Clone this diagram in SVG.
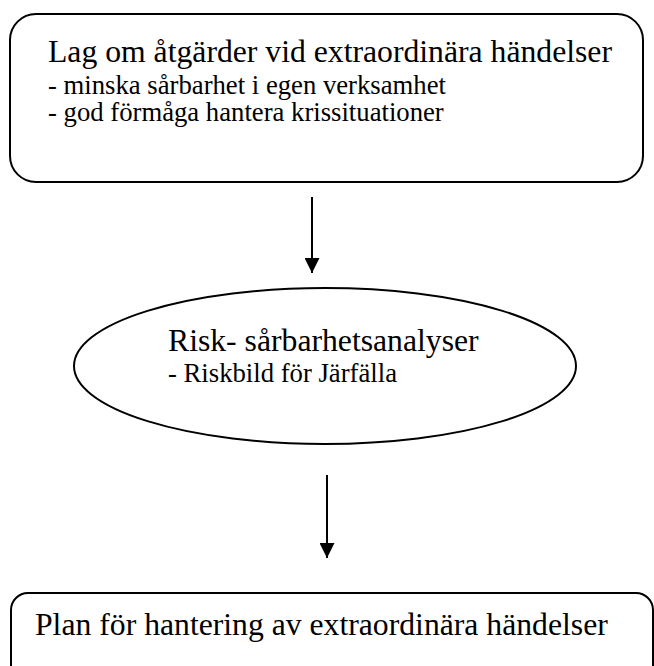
<svg xmlns="http://www.w3.org/2000/svg" width="654" height="666" viewBox="0 0 654 666">
<defs>
<style>
.shape{fill:#ffffff;stroke:#000000;stroke-width:2}
.t{font-family:"Liberation Serif","Times New Roman",serif;fill:#000000}
.big{font-size:31.7px}
.small{font-size:26.7px}
.conn{stroke:#000000;stroke-width:2;fill:none}
</style>
<marker id="ah" viewBox="0 0 10 10" refX="10" refY="5" markerWidth="7.5" markerHeight="7.5" markerUnits="strokeWidth" orient="auto">
<path d="M0,0 L10,5 L0,10 Z" fill="#000000"/>
</marker>
</defs>
<rect width="654" height="666" fill="#ffffff"/>
<g id="node-lag">
<rect class="shape" x="10" y="14" width="633" height="168" rx="26" ry="26"/>
<text class="t big" x="48" y="62">Lag om åtgärder vid extraordinära händelser</text>
<text class="t small" x="48" y="94">- minska sårbarhet i egen verksamhet</text>
<text class="t small" x="48" y="121">- god förmåga hantera krissituationer</text>
</g>
<g id="node-risk">
<ellipse class="shape" cx="325" cy="366" rx="251" ry="78"/>
<text class="t big" x="168" y="351">Risk- sårbarhetsanalyser</text>
<text class="t small" x="168" y="382">- Riskbild för Järfälla</text>
</g>
<g id="node-plan">
<rect class="shape" x="11" y="593" width="642" height="110" rx="17" ry="17"/>
<text class="t big" x="35" y="635">Plan för hantering av extraordinära händelser</text>
</g>
<g id="connectors">
<line class="conn" x1="312" y1="197" x2="312" y2="273" marker-end="url(#ah)"/>
<line class="conn" x1="327" y1="475" x2="327" y2="558" marker-end="url(#ah)"/>
</g>
</svg>
